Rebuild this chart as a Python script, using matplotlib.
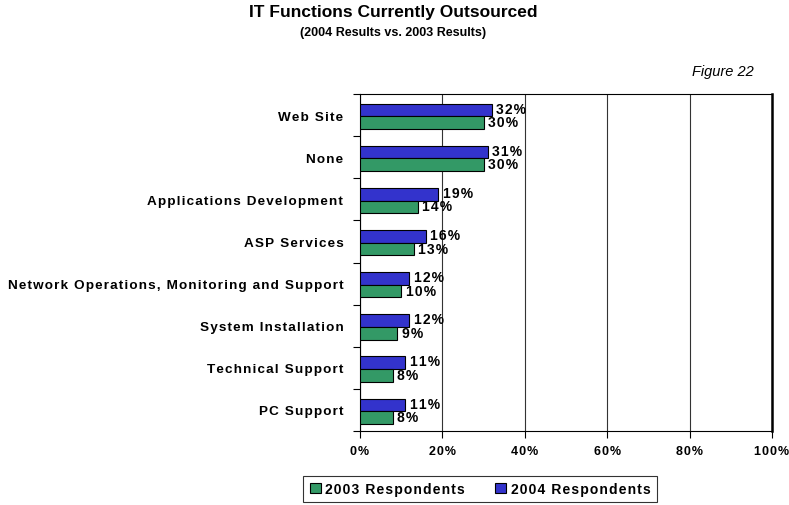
import numpy as np
import matplotlib
matplotlib.use("Agg")
import matplotlib.pyplot as plt
from matplotlib.patches import Patch

plt.rcParams["font.family"] = ["Liberation Sans", "DejaVu Sans"]

# =========================
# Data
# =========================
categories = [
    "Web Site",
    "None",
    "Applications Development",
    "ASP Services",
    "Network Operations, Monitoring and Support",
    "System Installation",
    "Technical Support",
    "PC Support",
]
values_2004 = [32, 31, 19, 16, 12, 12, 11, 11]
values_2003 = [30, 30, 14, 13, 10, 9, 8, 8]
x_ticks = [0, 20, 40, 60, 80, 100]
x_tick_labels = ["0%", "20%", "40%", "60%", "80%", "100%"]

BLUE = "#3333CC"
GREEN = "#339966"


def spaced(text, gap="\u200a"):
    # Excel-style wide tracking
    return gap.join(text)


fig = plt.figure(figsize=(7.89, 5.06), dpi=100)
ax = fig.add_axes([360 / 789, 1 - 432 / 506, 412 / 789, 337 / 506])

y = np.arange(len(categories))
h = 0.3
ax.barh(y - h / 2 + 0.03, values_2004, height=h, color=BLUE, edgecolor="black", linewidth=0.8, zorder=3)
ax.barh(y + h / 2 + 0.03, values_2003, height=h, color=GREEN, edgecolor="black", linewidth=0.8, zorder=3)

# data labels
for yi, v in zip(y, values_2004):
    ax.text(v + 1.1, yi - h / 2, spaced(f"{v}%"), va="center", ha="left",
            fontsize=10, fontweight="bold", zorder=4)
for yi, v in zip(y, values_2003):
    ax.text(v + 1.1, yi + h / 2 + 0.02, spaced(f"{v}%"), va="center", ha="left",
            fontsize=10, fontweight="bold", zorder=4)

ax.set_xlim(0, 100)
ax.set_ylim(len(categories) - 0.5, -0.5)

ax.set_xticks(x_ticks)
ax.set_xticklabels([spaced(t) for t in x_tick_labels], fontsize=9, fontweight="bold")
ax.tick_params(axis="x", direction="out", length=5, width=0.8, pad=5)

ax.set_yticks(y)
ax.set_yticklabels([spaced(c) for c in categories], fontsize=9.7, fontweight="bold")
ax.set_yticks(np.arange(len(categories) + 1) - 0.5, minor=True)
ax.tick_params(axis="y", which="major", length=0, pad=12)
ax.tick_params(axis="y", which="minor", direction="out", length=5, width=0.8)

ax.grid(axis="x", color="#333333", linewidth=0.8, zorder=0)
for s in ["top", "left", "bottom"]:
    ax.spines[s].set_linewidth(0.8)
ax.spines["right"].set_linewidth(1.8)

fig.text(393 / 789, 1 - 13 / 506, "IT Functions Currently Outsourced",
         ha="center", va="center", fontsize=12.5, fontweight="bold")
fig.text(393 / 789, 1 - 33 / 506, "(2004 Results vs. 2003 Results)",
         ha="center", va="center", fontsize=9, fontweight="bold")
fig.text(754 / 789, 1 - 72 / 506, "Figure 22", ha="right", va="center",
         fontsize=10.5, style="italic")

handles = [
    Patch(facecolor=GREEN, edgecolor="black", linewidth=0.8),
    Patch(facecolor=BLUE, edgecolor="black", linewidth=0.8),
]
leg = fig.legend(handles, [spaced("2003 Respondents"), spaced("2004 Respondents")],
                 loc="center", bbox_to_anchor=(480 / 789, 1 - 490 / 506), ncol=2,
                 prop={"weight": "bold", "size": 10}, frameon=True, fancybox=False,
                 handlelength=0.8, handleheight=0.8, handletextpad=0.3,
                 columnspacing=2.2, borderpad=0.45, borderaxespad=0)
leg.get_frame().set_edgecolor("black")
leg.get_frame().set_linewidth(0.8)

fig.savefig("out.png", dpi=100)
